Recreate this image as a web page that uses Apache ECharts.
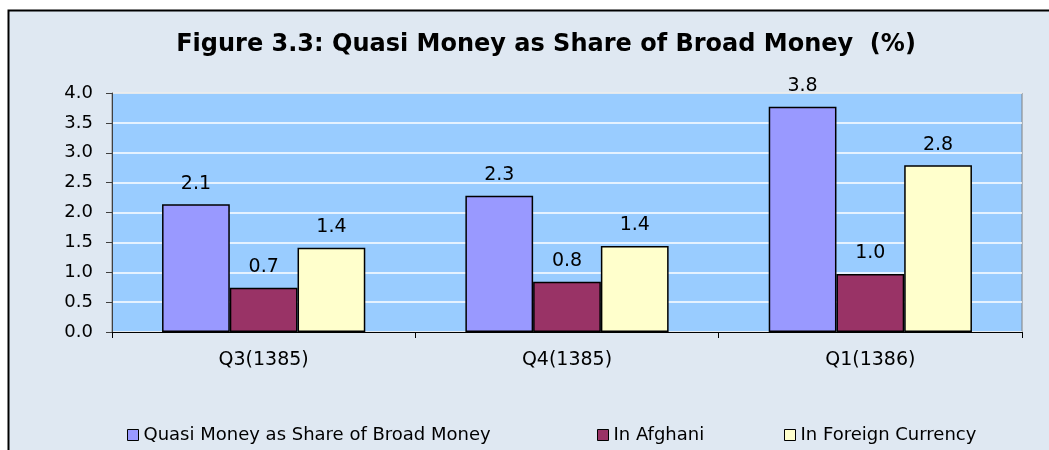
<!DOCTYPE html>
<html>
<head>
<meta charset="utf-8">
<script src="https://cdn.jsdelivr.net/npm/echarts@6/dist/echarts.min.js"></script>
<style>
  html, body { margin: 0; padding: 0; background: #fff; }
  #chart { width: 1049px; height: 450px; }
</style>
</head>
<body>
<div id="chart"></div>
<script>
var categories = ["Q3(1385)", "Q4(1385)", "Q1(1386)"];
var quasiShare = [2.14, 2.28, 3.77];
var inAfghani = [0.74, 0.84, 0.97];
var inForeign = [1.41, 1.44, 2.79];
var yTicks = { min: 0, max: 4, interval: 0.5 };

var font = "DejaVu Sans, Verdana, sans-serif";
var chart = echarts.init(document.getElementById("chart"));

var barLabel = {
  show: true,
  position: "top",
  distance: 11,
  fontFamily: font,
  fontSize: 19,
  color: "#000",
  formatter: function(p) {
    return p.value.toFixed(1);
  }
};

function mkBar(name, data, color) {
  return {
    type: "bar",
    name: name,
    data: data,
    barGap: "0%",
    barCategoryGap: "33%",
    itemStyle: { color: color, borderColor: "#000", borderWidth: 1.5 },
    label: barLabel
  };
}

function mkLegend(name, left) {
  return {
    data: [name],
    left: left,
    top: 421,
    itemWidth: 11,
    itemHeight: 11,
    itemGap: 8,
    icon: "rect",
    itemStyle: { borderColor: "#000", borderWidth: 1 },
    textStyle: { fontFamily: font, fontSize: 18, color: "#000" }
  };
}

chart.setOption({
  backgroundColor: "#fff",
  animation: false,
  graphic: [
    {
      type: "rect",
      z: -10,
      shape: { x: 8.5, y: 10.5, width: 1050, height: 450 },
      style: { fill: "#dfe8f2", stroke: "#000", lineWidth: 2 }
    }
  ],
  title: {
    text: "Figure 3.3: Quasi Money as Share of Broad Money  (%)",
    left: 541,
    top: 28,
    textAlign: "center",
    textStyle: { fontFamily: font, fontSize: 24, fontWeight: "bold", color: "#000" }
  },
  legend: [
    mkLegend("Quasi Money as Share of Broad Money", 122),
    mkLegend("In Afghani", 592),
    mkLegend("In Foreign Currency", 779)
  ],
  grid: {
    left: 112,
    right: 27,
    top: 93,
    bottom: 118,
    show: true,
    backgroundColor: "#99ccff",
    borderColor: "#808080",
    borderWidth: 1
  },
  xAxis: {
    type: "category",
    data: categories,
    axisLine: { lineStyle: { color: "#000", width: 1 } },
    axisTick: { show: true, length: 6, lineStyle: { color: "#000" } },
    axisLabel: { fontFamily: font, fontSize: 19, color: "#000", margin: 19 }
  },
  yAxis: {
    type: "value",
    min: yTicks.min,
    max: yTicks.max,
    interval: yTicks.interval,
    axisLine: { show: true, lineStyle: { color: "#404040", width: 1 } },
    axisTick: { show: true, length: 6, lineStyle: { color: "#404040" } },
    axisLabel: {
      fontFamily: font,
      fontSize: 18,
      color: "#000",
      margin: 19,
      formatter: function(v) { return v.toFixed(1); }
    },
    splitLine: { show: true, lineStyle: { color: "#ffffff", width: 1.5 } }
  },
  series: [
    mkBar("Quasi Money as Share of Broad Money", quasiShare, "#9999ff"),
    mkBar("In Afghani", inAfghani, "#993366"),
    mkBar("In Foreign Currency", inForeign, "#ffffcc")
  ]
});
</script>
</body>
</html>
